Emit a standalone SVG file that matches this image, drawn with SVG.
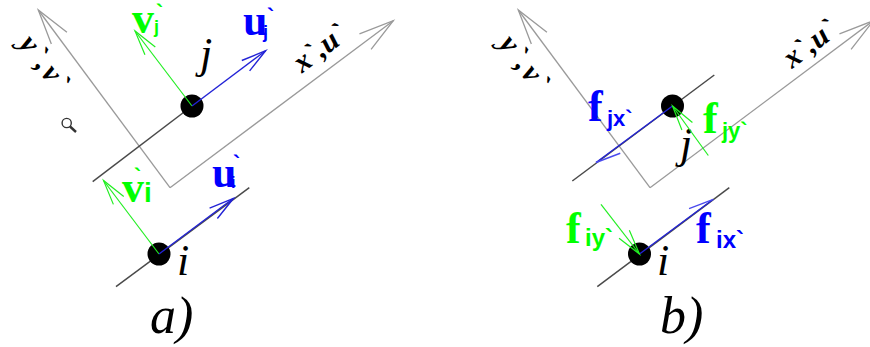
<svg xmlns="http://www.w3.org/2000/svg" width="870" height="347" viewBox="0 0 870 347">
<style>
.axis{stroke:#9a9a9a;stroke-width:1.3;fill:none}
.member{stroke:#4a4a4a;stroke-width:1.5;fill:none}
.g{stroke:#22ee22;stroke-width:1.2;fill:none}
.b{stroke:#2323d6;stroke-width:1.4;fill:none}
.dot{fill:#000}
.it{font-family:"Liberation Serif",serif;font-style:italic;fill:#000}
.ax{font-family:"Liberation Serif",serif;font-style:italic;font-weight:bold;font-size:30px;fill:#000}
.big{font-family:"Liberation Serif",serif;font-weight:bold;font-size:44px}
.sub{font-family:"Liberation Sans",sans-serif;font-weight:bold}
.gt{fill:#00ff00}
.bt{fill:#0000ff}
</style>
<defs>
<marker id="ah-axis" markerUnits="userSpaceOnUse" orient="auto" overflow="visible" refX="0" refY="0" markerWidth="1" markerHeight="1">
<path d="M-35,-9.7 L0,0 L-35,9.7" fill="none" stroke="#9a9a9a" stroke-width="1.3"/>
</marker>
<marker id="ah-g" markerUnits="userSpaceOnUse" orient="auto" overflow="visible" refX="0" refY="0" markerWidth="1" markerHeight="1">
<path d="M-25,-6.5 L0,0 L-25,6.5" fill="none" stroke="#22ee22" stroke-width="1.2"/>
</marker>
<marker id="ah-b" markerUnits="userSpaceOnUse" orient="auto" overflow="visible" refX="0" refY="0" markerWidth="1" markerHeight="1">
<path d="M-25,-6.5 L0,0 L-25,6.5" fill="none" stroke="#2323d6" stroke-width="1.4"/>
</marker>
<marker id="ah-bh" markerUnits="userSpaceOnUse" orient="auto" overflow="visible" refX="0" refY="0" markerWidth="1" markerHeight="1">
<path d="M-25,-7 L0,0" fill="none" stroke="#4a4aee" stroke-width="1.4"/>
</marker>
</defs>
<rect width="870" height="347" fill="#fff"/>

<g id="axes">
<line class="axis" x1="170" y1="187.7" x2="38.3" y2="10" marker-end="url(#ah-axis)"/>
<line class="axis" x1="170" y1="187.7" x2="393.3" y2="20.7" marker-end="url(#ah-axis)"/>
<line class="axis" x1="650" y1="187.7" x2="518.3" y2="10" marker-end="url(#ah-axis)"/>
<line class="axis" x1="650" y1="187.7" x2="873.3" y2="20.7" marker-end="url(#ah-axis)"/>
<text class="ax" transform="translate(18,44) rotate(53)" letter-spacing="2">y`,v`</text>
<text class="ax" transform="translate(302,73.5) rotate(-37)">x`,u`</text>
<text class="ax" transform="translate(498,44) rotate(53)" letter-spacing="2">y`,v`</text>
<text class="ax" transform="translate(792,69) rotate(-37)">x`,u`</text>
</g>

<g id="members">
<line class="member" x1="92.7" y1="181.7" x2="192" y2="106"/>
<line class="member" x1="116" y1="286.7" x2="249.3" y2="187.7"/>
<line class="member" x1="572.3" y1="181" x2="714.3" y2="75"/>
<line class="member" x1="597.3" y1="286.7" x2="729.3" y2="187.7"/>
</g>

<g id="icon">
<circle cx="66.7" cy="123" r="4.6" fill="none" stroke="#333" stroke-width="1.4"/>
<line x1="70" y1="126.5" x2="76" y2="132" stroke="#333" stroke-width="2.4"/>
</g>

<g id="node-a-j">
<circle class="dot" cx="192" cy="106" r="11.5"/>
<text class="it" x="200" y="68" font-size="44">j</text>
</g>
<g id="node-a-i">
<circle class="dot" cx="159" cy="254" r="11.5"/>
<text class="it" x="177" y="275" font-size="44">i</text>
</g>
<g id="node-b-j">
<circle class="dot" cx="672.5" cy="106" r="11.5"/>
<text class="it" x="680" y="158" font-size="44">j</text>
</g>
<g id="node-b-i">
<circle class="dot" cx="639.5" cy="254" r="11.5"/>
<text class="it" x="657" y="275" font-size="44">i</text>
</g>

<g id="connectors">
<line class="g" x1="192" y1="106" x2="135" y2="31" marker-end="url(#ah-g)"/>
<line class="b" x1="192" y1="106" x2="265.7" y2="50.7" marker-end="url(#ah-b)"/>
<line class="g" x1="159" y1="254" x2="103.5" y2="180.5" marker-end="url(#ah-g)"/>
<line class="b" x1="159" y1="254" x2="233.5" y2="198.3" marker-end="url(#ah-b)"/>
<line class="b" x1="672.5" y1="106" x2="596" y2="162.5" marker-end="url(#ah-bh)"/>
<line class="g" x1="708.3" y1="155.5" x2="672.5" y2="106" marker-end="url(#ah-g)"/>
<line class="b" x1="639.5" y1="254" x2="713.3" y2="199.3" marker-end="url(#ah-bh)"/>
<line class="g" x1="601" y1="204.3" x2="639.5" y2="254" marker-end="url(#ah-g)"/>
</g>

<g id="labels">
<text class="big gt" x="132" y="33">v<tspan class="sub" x="154" y="33" font-size="18">j</tspan><tspan class="sub" x="156" y="20" font-size="22">`</tspan></text>
<text class="big bt" x="243" y="35">u<tspan class="sub" x="263" y="38" font-size="18">j</tspan><tspan class="sub" x="267" y="24" font-size="22">`</tspan></text>
<text class="big gt" x="122" y="202">v<tspan class="sub" x="144" y="202" font-size="28">i</tspan><tspan class="sub" x="134" y="184" font-size="22">`</tspan></text>
<text class="big bt" x="212" y="187">u<tspan class="sub" x="231" y="188" font-size="16">i</tspan><tspan class="sub" x="233" y="171" font-size="22">`</tspan></text>
<text class="big bt" x="588" y="121">f<tspan class="sub" x="607" y="126" font-size="22">jx`</tspan></text>
<text class="big gt" x="703" y="133">f<tspan class="sub" x="722" y="138" font-size="22">jy`</tspan></text>
<text class="big gt" x="566" y="243">f<tspan class="sub" x="585" y="246" font-size="24">iy`</tspan></text>
<text class="big bt" x="696" y="243">f<tspan class="sub" x="716" y="248" font-size="24">ix`</tspan></text>
<text class="it" x="150" y="333" font-size="52">a)</text>
<text class="it" x="660" y="333" font-size="52">b)</text>
</g>
</svg>
